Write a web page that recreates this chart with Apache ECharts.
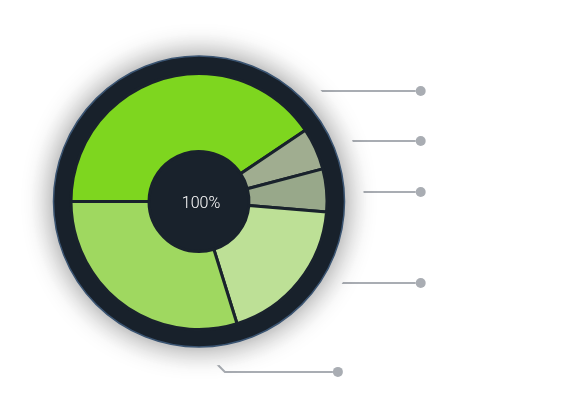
<!DOCTYPE html>
<html>
<head>
<meta charset="utf-8">
<script src="https://cdn.jsdelivr.net/npm/echarts@6/dist/echarts.min.js"></script>
<style>
html,body{margin:0;padding:0;background:#fff;}
#chart{width:588px;height:403px;}
</style>
</head>
<body>
<div id="chart"></div>
<script>
// Inner (coloured) ring
const categories = ['A', 'B', 'C', 'D', 'E'];
const values = [40.6, 5.3, 5.4, 18.9, 29.8];
const colors = ['#7ed61f', '#a0ad90', '#98a88a', '#bde096', '#9fd860'];
// Outer (dark) ring, whose labels only show as guide lines with dots
const outerCategories = ['a', 'b', 'c', 'd', 'rest'];
const outerValues = [21.5, 21.5, 16.1, 51.9, 249];
const bottomCategories = ['e', 'rest'];
const bottomValues = [10, 350];
const centerLabel = '100%';

const CX = 199, CY = 201.5;
const GUIDE = '#a9adb3';
const DARK = '#19222c';

const dot = {
  formatter: '{d| }',
  rich: { d: { width: 10, height: 10, borderRadius: 5, backgroundColor: GUIDE, fontSize: 1 } },
  distanceToLabelLine: 0
};

const chart = echarts.init(document.getElementById('chart'), null, { renderer: 'canvas' });
chart.setOption({
  animation: false,
  series: [
    {
      type: 'pie', z: 1, silent: true, center: [CX, CY], radius: [0, 145],
      startAngle: 54.45, avoidLabelOverlap: true,
      itemStyle: { color: 'rgba(0,0,0,0)' },
      label: Object.assign({ alignTo: 'labelLine' }, dot),
      labelLine: { length: 15, length2: 57, lineStyle: { color: GUIDE, width: 2 } },
      data: outerCategories.map((n, i) => ({
        name: n, value: outerValues[i],
        label: { show: i < outerCategories.length - 1 },
        labelLine: { show: i < outerCategories.length - 1 }
      }))
    },
    {
      type: 'pie', z: 1, silent: true, center: [186, 333], radius: [0, 10],
      startAngle: -40, avoidLabelOverlap: false,
      itemStyle: { color: 'rgba(0,0,0,0)' },
      label: Object.assign({ alignTo: 'none' }, dot),
      labelLine: { length: 45, length2: 108, lineStyle: { color: GUIDE, width: 2 } },
      data: bottomCategories.map((n, i) => ({
        name: n, value: bottomValues[i],
        label: { show: i === 0 }, labelLine: { show: i === 0 }
      }))
    },
    {
      type: 'pie', z: 2, silent: true, center: [CX, CY], radius: [0, 165],
      itemStyle: { color: '#ffffff' }, label: { show: false }, labelLine: { show: false },
      data: [1]
    },
    {
      type: 'pie', z: 3, silent: true, center: [CX, CY], radius: [0, 145.5],
      itemStyle: { color: DARK, borderColor: '#3a5472', borderWidth: 1.5,
        shadowBlur: 30, shadowColor: 'rgba(0,0,0,0.45)' },
      label: { show: false },
      labelLine: { show: false },
      data: [1]
    },
    {
      type: 'pie', z: 4, silent: true, center: [CX, CY], radius: [50, 128],
      startAngle: 180,
      itemStyle: { borderColor: DARK, borderWidth: 3 },
      label: { show: false }, labelLine: { show: false },
      data: categories.map((n, i) => ({ name: n, value: values[i], itemStyle: { color: colors[i] } }))
    }
  ],
  graphic: [{
    type: 'text', z: 100, x: CX + 2, y: CY + 2,
    style: { text: centerLabel, fill: '#ffffff', fontSize: 16, fontFamily: 'Roboto',
      fontWeight: 300, align: 'center', verticalAlign: 'middle' }
  }]
});
</script>
</body>
</html>
